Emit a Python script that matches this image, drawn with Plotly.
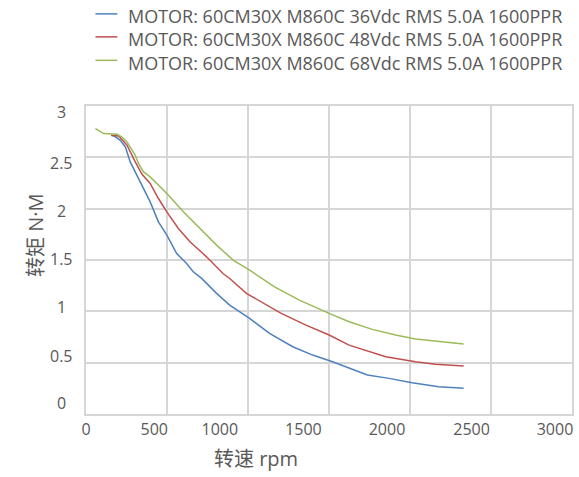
import plotly.graph_objects as go

# Speed (rpm) / torque (N·M) curves for the 60CM30X motor with M860C driver
speed_36v = [155, 177, 212, 243, 273, 335, 396, 447, 499, 560, 621, 662, 714, 806, 887,
             1010, 1133, 1276, 1399, 1522, 1624, 1737, 1870, 2013, 2177, 2331]
torque_36v = [2.715, 2.705, 2.666, 2.601, 2.455, 2.261, 2.066, 1.871, 1.742, 1.563, 1.466,
              1.385, 1.321, 1.175, 1.061, 0.931, 0.785, 0.655, 0.574, 0.509, 0.445, 0.380,
              0.347, 0.305, 0.266, 0.250]

speed_48v = [155, 201, 222, 253, 304, 345, 396, 447, 499, 570, 642, 744, 846, 887, 990,
             1133, 1205, 1358, 1501, 1624, 1850, 2034, 2157, 2331]
torque_48v = [2.715, 2.708, 2.673, 2.618, 2.455, 2.337, 2.245, 2.099, 1.969, 1.807, 1.677,
              1.531, 1.368, 1.320, 1.175, 1.044, 0.980, 0.866, 0.769, 0.671, 0.558, 0.509,
              0.484, 0.467]

speed_68v = [58, 109, 192, 222, 253, 284, 304, 324, 355, 396, 427, 499, 601, 703, 806, 908,
             1010, 1164, 1317, 1501, 1624, 1767, 1911, 2034, 2177, 2331]
torque_68v = [2.780, 2.731, 2.725, 2.698, 2.650, 2.569, 2.520, 2.440, 2.358, 2.309, 2.261,
              2.148, 1.969, 1.807, 1.645, 1.499, 1.401, 1.239, 1.109, 0.980, 0.898, 0.824,
              0.769, 0.730, 0.704, 0.681]

series_names = [
    "MOTOR: 60CM30X M860C 36Vdc RMS 5.0A 1600PPR",
    "MOTOR: 60CM30X M860C 48Vdc RMS 5.0A 1600PPR",
    "MOTOR: 60CM30X M860C 68Vdc RMS 5.0A 1600PPR",
]
series_colors = ["#4F81BD", "#C0504D", "#9BBB59"]

# Grid lines and the tick labels printed along each axis
grid_x = [0, 500, 1000, 1500, 2000, 2500, 3000]
grid_y = [0, 0.5, 1, 1.5, 2, 2.5, 3]
x_label_pos = [0, 421, 826, 1342, 1858, 2380, 2895]
x_label_text = ["0", "500", "1000", "1500", "2000", "2500", "3000"]
y_label_pos = [2.942, 2.445, 1.978, 1.508, 1.041, 0.567, 0.107]
y_label_text = ["3", "2.5", "2", "1.5", "1", "0.5", "0"]

FONT = "Open Sans, Noto Sans CJK SC, sans-serif"
TEXT = "#595959"
GRID = "#d6d6d6"

W, H = 579, 477
M_L, M_R, M_T, M_B = 85.5, 5, 105.7, 63
PLOT_W = W - M_L - M_R
PLOT_H = H - M_T - M_B


def px_x(px):
    """Horizontal pixel -> paper fraction."""
    return (px - M_L) / PLOT_W


def px_y(py):
    """Vertical pixel (from top) -> paper fraction."""
    return (H - M_B - py) / PLOT_H


fig = go.Figure()
for xs, ys, name, color in zip([speed_36v, speed_48v, speed_68v],
                               [torque_36v, torque_48v, torque_68v],
                               series_names, series_colors):
    fig.add_trace(go.Scatter(x=xs, y=ys, mode="lines", name=name,
                             line=dict(color=color, width=1.5), showlegend=False))

fig.update_xaxes(
    range=[0, 3000], showgrid=False, zeroline=False,
    showline=True, linecolor=GRID, linewidth=1.5, mirror=True,
    tickmode="array", tickvals=x_label_pos, ticktext=x_label_text,
    ticks="", tickfont=dict(family=FONT, size=16, color=TEXT),
    minor=dict(tickmode="array", tickvals=grid_x, showgrid=True,
               gridcolor=GRID, gridwidth=1.5, ticks=""),
)
fig.update_yaxes(
    range=[0, 3], showgrid=False, zeroline=False,
    showline=True, linecolor=GRID, linewidth=1.5, mirror=True,
    showticklabels=False, ticks="",
    minor=dict(tickmode="array", tickvals=grid_y, showgrid=True,
               gridcolor=GRID, gridwidth=1.5, ticks=""),
)

annotations = []
shapes = []
for pos, txt in zip(y_label_pos, y_label_text):
    annotations.append(dict(x=px_x(61), xref="paper", y=pos, yref="y", text=txt,
                            showarrow=False, xanchor="center", yanchor="middle",
                            font=dict(family=FONT, size=16, color=TEXT)))
annotations.append(dict(x=px_x(256), xref="paper", y=px_y(459), yref="paper",
                        text="转速 rpm", showarrow=False,
                        xanchor="center", yanchor="middle",
                        font=dict(family=FONT, size=20, color=TEXT)))
annotations.append(dict(x=px_x(34), xref="paper", y=px_y(235), yref="paper",
                        text="转矩 N·M", textangle=-90, showarrow=False,
                        xanchor="center", yanchor="middle",
                        font=dict(family=FONT, size=20, color=TEXT)))

# Legend: short line sample followed by the series name
legend_line_y = [13.5, 36.5, 60]
legend_text_y = [15.5, 39, 62.5]
for name, color, ly, ty in zip(series_names, series_colors, legend_line_y, legend_text_y):
    shapes.append(dict(type="line", xref="paper", yref="paper",
                       x0=px_x(95), x1=px_x(117), y0=px_y(ly), y1=px_y(ly),
                       line=dict(color=color, width=1.5)))
    annotations.append(dict(x=px_x(126), xref="paper", y=px_y(ty), yref="paper",
                            text=name, showarrow=False,
                            xanchor="left", yanchor="middle",
                            font=dict(family=FONT, size=18, color=TEXT)))

fig.update_layout(
    width=W, height=H,
    margin=dict(l=M_L, r=M_R, t=M_T, b=M_B),
    paper_bgcolor="white", plot_bgcolor="white",
    showlegend=False,
    annotations=annotations,
    shapes=shapes,
)

fig.write_html("out.html")
